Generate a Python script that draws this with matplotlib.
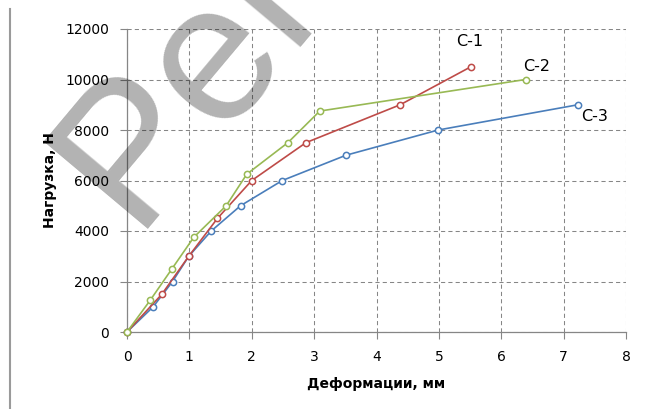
import matplotlib
matplotlib.use("Agg")
import matplotlib.pyplot as plt
from matplotlib.lines import Line2D

# Load-deformation curves for the three specimens
c1_def = [0, 0.56, 0.99, 1.45, 2.00, 2.87, 4.38, 5.51]
c1_load = [0, 1500, 3000, 4500, 6000, 7500, 9000, 10500]

c2_def = [0, 0.37, 0.72, 1.07, 1.59, 1.92, 2.58, 3.09, 6.39]
c2_load = [0, 1250, 2500, 3750, 5000, 6250, 7500, 8750, 10000]

c3_def = [0, 0.42, 0.73, 0.99, 1.35, 1.82, 2.49, 3.51, 4.99, 7.23]
c3_load = [0, 1000, 2000, 3000, 4000, 5000, 6000, 7000, 8000, 9000]

labels = ["С-1", "С-2", "С-3"]
label_pos = [(5.5, 11500), (6.57, 10530), (7.5, 8540)]

x_ticks = [0, 1, 2, 3, 4, 5, 6, 7, 8]
y_ticks = [0, 2000, 4000, 6000, 8000, 10000, 12000]

W, H = 650, 409
fig = plt.figure(figsize=(W / 100, H / 100), dpi=100)
ax = fig.add_axes([127 / W, (H - 332) / H, (626 - 127) / W, (332 - 29) / H])

blue = "#4a7ebb"
red = "#be4b48"
green = "#98b954"
axis_gray = "#868686"

# blue goes first so red and green sit on top of it
for xs, ys, col in [(c3_def, c3_load, blue), (c1_def, c1_load, red), (c2_def, c2_load, green)]:
    ax.plot(xs, ys, color=col, lw=1.2, marker="o", ms=4.5, mfc="white",
            mec=col, mew=1.1, zorder=3, clip_on=False)

for txt, (lx, ly) in zip(labels, label_pos):
    ax.text(lx, ly, txt, fontsize=11.5, ha="center", va="center", color="black")

ax.set_xlim(0, 8)
ax.set_ylim(0, 12000)
ax.set_xticks(x_ticks)
ax.set_yticks(y_ticks)
ax.tick_params(axis="both", direction="out", length=5, width=0.8, color=axis_gray,
               labelsize=10, pad=8, labelcolor="black")

ax.grid(True, color=axis_gray, linestyle=(0, (4, 3)), linewidth=0.75)
ax.set_axisbelow(True)
for side in ["top", "right"]:
    ax.spines[side].set_visible(False)
for side in ["left", "bottom"]:
    ax.spines[side].set_color(axis_gray)
    ax.spines[side].set_linewidth(0.9)

ax.set_xlabel("Деформации, мм", fontsize=10, fontweight="bold", labelpad=9)
ax.set_ylabel("Нагрузка, Н", fontsize=10, fontweight="bold", labelpad=6)

# thin gray frame line at the left edge
fig.add_artist(Line2D([10 / W, 10 / W], [0, (H - 9) / H], color="#9a9a9a", lw=1.5))

# translucent watermark over the chart
fig.text(132 / W, (H - 229) / H, "Per", fontsize=142, color="black", alpha=0.3,
         rotation=50, rotation_mode="anchor", ha="left", va="baseline",
         family="Liberation Sans", zorder=10)

fig.savefig("out.png", dpi=100)
